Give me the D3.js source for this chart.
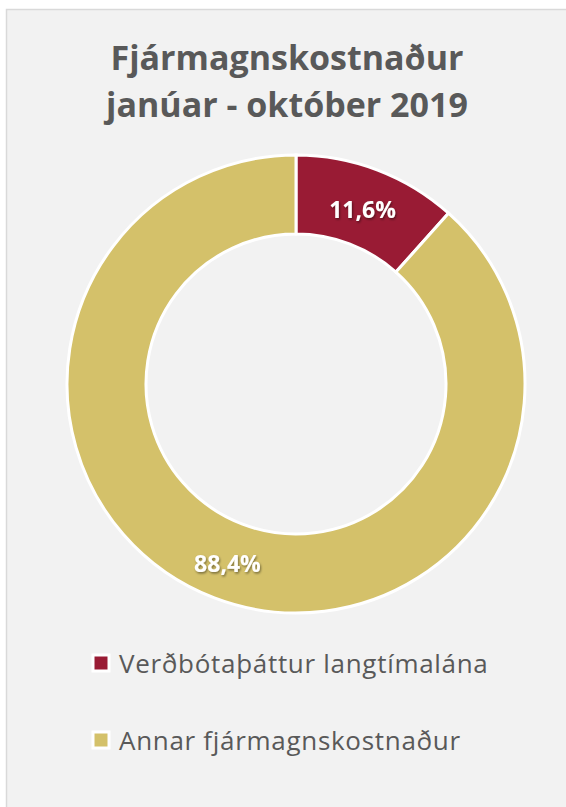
<!DOCTYPE html>
<html><head><meta charset="utf-8">
<script src="https://cdn.jsdelivr.net/npm/d3@7"></script>
<style>html,body{margin:0;padding:0;background:#fff;}svg{display:block;}</style>
</head><body>
<script>
const titleLines = ["Fjármagnskostnaður", "janúar - október 2019"];
const categories = ["Verðbótaþáttur langtímalána", "Annar fjármagnskostnaður"];
const values = [11.6, 88.4];
const labels = ["11,6%", "88,4%"];
const colors = ["#991b34", "#d4c16a"];

const W = 566, H = 807;
const svg = d3.select("body").append("svg").attr("width", W).attr("height", H);
const defs = svg.append("defs");
const f = defs.append("filter").attr("id","sh").attr("x","-20%").attr("y","-20%").attr("width","140%").attr("height","160%");
f.append("feDropShadow").attr("dx",1).attr("dy",1.5).attr("stdDeviation",1.2).attr("flood-color","#000").attr("flood-opacity",0.45);

svg.append("rect").attr("x",6.5).attr("y",9.5).attr("width",W+10).attr("height",H+10)
  .attr("fill","#f2f2f2").attr("stroke","#d9d9d9").attr("stroke-width",1.5);

const font = "'Open Sans', 'Noto Sans', sans-serif";
svg.append("g").selectAll("text").data(titleLines).join("text")
  .attr("x", 287).attr("y", (d,i)=>70 + i*47)
  .attr("text-anchor","middle").attr("font-family",font).attr("font-weight",700)
  .attr("font-size",34).attr("fill","#595959").text(d=>d);

const cx = 296, cy = 384, R = 229, r = 150;
const pie = d3.pie().sort(null).value(d=>d)(values);
const arc = d3.arc().innerRadius(r).outerRadius(R);
const g = svg.append("g").attr("transform",`translate(${cx},${cy})`);
g.selectAll("path").data(pie).join("path")
  .attr("d",arc).attr("fill",(d,i)=>colors[i]).attr("stroke","#fff").attr("stroke-width",3);
g.selectAll("text").data(pie).join("text")
  .attr("transform",d=>{const c=arc.centroid(d);return `translate(${c[0]-1},${c[1]+3})`;})
  .attr("text-anchor","middle").attr("dy","0.36em")
  .attr("font-family",font).attr("font-weight",700).attr("font-size",23)
  .attr("fill","#fff").attr("filter","url(#sh)").text((d,i)=>labels[i]);

const leg = svg.append("g").selectAll("g").data(categories).join("g")
  .attr("transform",(d,i)=>`translate(93,${663 + i*77})`);
leg.append("rect").attr("x",0).attr("y",-8).attr("width",16).attr("height",16)
  .attr("fill",(d,i)=>colors[i]).attr("stroke","#fff").attr("stroke-width",3);
leg.append("text").attr("x",26).attr("y",10)
  .attr("font-family",font).attr("font-size",26).attr("letter-spacing",0.7).attr("fill","#595959").text(d=>d);
</script>
</body></html>
